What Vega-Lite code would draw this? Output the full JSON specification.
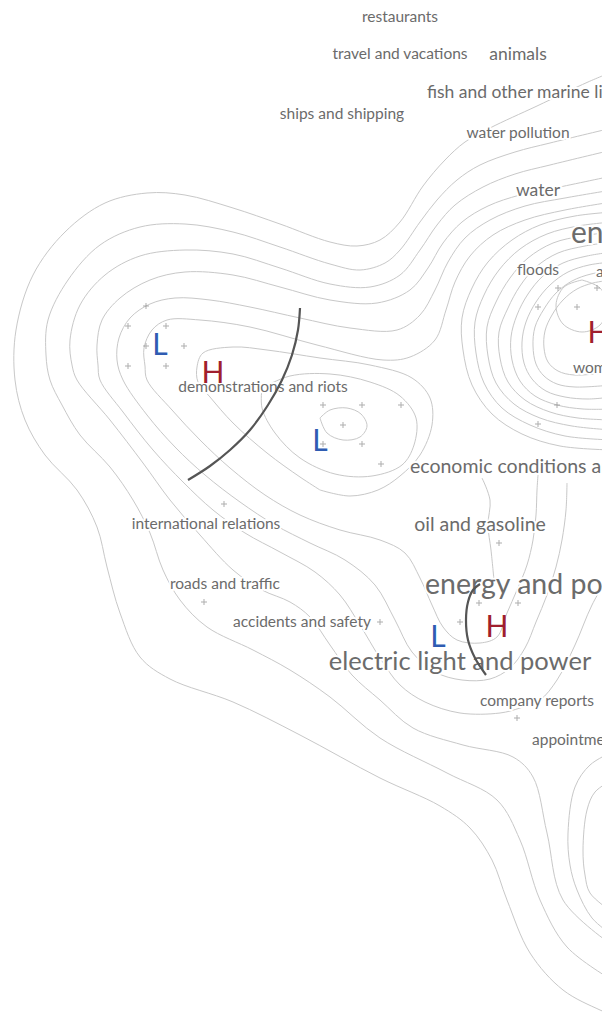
{
"$schema":"https://vega.github.io/schema/vega-lite/v6.json",
"width":602,"height":1012,"padding":{"left":0,"top":0,"right":6,"bottom":0},"autosize":"none","background":"white",
"config":{"view":{"stroke":null}},
"datasets":{
"contours":[
{"c":"C1","x":612,"y":72},{"c":"C1","x":588,"y":82},{"c":"C1","x":537,"y":106},{"c":"C1","x":490,"y":128},{"c":"C1","x":465,"y":142},{"c":"C1","x":445,"y":160},{"c":"C1","x":423,"y":186},{"c":"C1","x":400,"y":222},{"c":"C1","x":380,"y":240},{"c":"C1","x":357,"y":246},{"c":"C1","x":330,"y":242},{"c":"C1","x":280,"y":224},{"c":"C1","x":233,"y":208},{"c":"C1","x":185,"y":195},{"c":"C1","x":147,"y":193},{"c":"C1","x":105,"y":203},{"c":"C1","x":65,"y":232},{"c":"C1","x":33,"y":275},{"c":"C1","x":16,"y":330},{"c":"C1","x":15,"y":380},{"c":"C1","x":25,"y":420},{"c":"C1","x":45,"y":455},{"c":"C1","x":77,"y":490},{"c":"C1","x":97,"y":527},{"c":"C1","x":107,"y":567},{"c":"C1","x":120,"y":613},{"c":"C1","x":140,"y":657},{"c":"C1","x":170,"y":679},{"c":"C1","x":233,"y":702},{"c":"C1","x":300,"y":735},{"c":"C1","x":380,"y":778},{"c":"C1","x":440,"y":806},{"c":"C1","x":470,"y":828},{"c":"C1","x":492,"y":860},{"c":"C1","x":507,"y":900},{"c":"C1","x":530,"y":953},{"c":"C1","x":563,"y":990},{"c":"C1","x":600,"y":1010},{"c":"C1","x":615,"y":1016},
{"c":"C2","x":612,"y":128},{"c":"C2","x":550,"y":143},{"c":"C2","x":515,"y":152},{"c":"C2","x":480,"y":165},{"c":"C2","x":457,"y":180},{"c":"C2","x":437,"y":200},{"c":"C2","x":420,"y":222},{"c":"C2","x":400,"y":250},{"c":"C2","x":385,"y":263},{"c":"C2","x":360,"y":270},{"c":"C2","x":330,"y":264},{"c":"C2","x":280,"y":247},{"c":"C2","x":233,"y":232},{"c":"C2","x":185,"y":224},{"c":"C2","x":140,"y":227},{"c":"C2","x":100,"y":245},{"c":"C2","x":68,"y":280},{"c":"C2","x":48,"y":320},{"c":"C2","x":46,"y":355},{"c":"C2","x":50,"y":380},{"c":"C2","x":62,"y":405},{"c":"C2","x":80,"y":435},{"c":"C2","x":110,"y":467},{"c":"C2","x":133,"y":500},{"c":"C2","x":150,"y":533},{"c":"C2","x":163,"y":570},{"c":"C2","x":180,"y":600},{"c":"C2","x":207,"y":627},{"c":"C2","x":253,"y":650},{"c":"C2","x":290,"y":670},{"c":"C2","x":330,"y":697},{"c":"C2","x":380,"y":738},{"c":"C2","x":447,"y":773},{"c":"C2","x":497,"y":800},{"c":"C2","x":520,"y":840},{"c":"C2","x":540,"y":900},{"c":"C2","x":567,"y":947},{"c":"C2","x":612,"y":980},
{"c":"C3","x":612,"y":150},{"c":"C3","x":550,"y":165},{"c":"C3","x":515,"y":174},{"c":"C3","x":483,"y":187},{"c":"C3","x":455,"y":205},{"c":"C3","x":437,"y":225},{"c":"C3","x":420,"y":250},{"c":"C3","x":400,"y":275},{"c":"C3","x":370,"y":287},{"c":"C3","x":330,"y":284},{"c":"C3","x":280,"y":268},{"c":"C3","x":233,"y":254},{"c":"C3","x":185,"y":250},{"c":"C3","x":140,"y":256},{"c":"C3","x":105,"y":275},{"c":"C3","x":80,"y":305},{"c":"C3","x":70,"y":340},{"c":"C3","x":72,"y":365},{"c":"C3","x":77,"y":380},{"c":"C3","x":110,"y":420},{"c":"C3","x":143,"y":463},{"c":"C3","x":170,"y":500},{"c":"C3","x":200,"y":535},{"c":"C3","x":233,"y":570},{"c":"C3","x":262,"y":590},{"c":"C3","x":290,"y":602},{"c":"C3","x":310,"y":617},{"c":"C3","x":330,"y":645},{"c":"C3","x":352,"y":675},{"c":"C3","x":380,"y":700},{"c":"C3","x":413,"y":728},{"c":"C3","x":463,"y":745},{"c":"C3","x":513,"y":757},{"c":"C3","x":533,"y":777},{"c":"C3","x":547,"y":833},{"c":"C3","x":563,"y":900},{"c":"C3","x":612,"y":945},
{"c":"C4","x":612,"y":176},{"c":"C4","x":555,"y":188},{"c":"C4","x":520,"y":195},{"c":"C4","x":488,"y":206},{"c":"C4","x":462,"y":222},{"c":"C4","x":443,"y":243},{"c":"C4","x":428,"y":268},{"c":"C4","x":410,"y":290},{"c":"C4","x":377,"y":303},{"c":"C4","x":330,"y":300},{"c":"C4","x":280,"y":287},{"c":"C4","x":233,"y":275},{"c":"C4","x":185,"y":272},{"c":"C4","x":150,"y":280},{"c":"C4","x":120,"y":298},{"c":"C4","x":102,"y":320},{"c":"C4","x":97,"y":345},{"c":"C4","x":98,"y":365},{"c":"C4","x":100,"y":380},{"c":"C4","x":123,"y":412},{"c":"C4","x":153,"y":450},{"c":"C4","x":183,"y":482},{"c":"C4","x":213,"y":510},{"c":"C4","x":245,"y":533},{"c":"C4","x":280,"y":552},{"c":"C4","x":315,"y":572},{"c":"C4","x":340,"y":595},{"c":"C4","x":360,"y":625},{"c":"C4","x":380,"y":658},{"c":"C4","x":400,"y":685},{"c":"C4","x":425,"y":702},{"c":"C4","x":460,"y":713},{"c":"C4","x":500,"y":713},{"c":"C4","x":520,"y":708},{"c":"C4","x":540,"y":700},{"c":"C4","x":557,"y":680},{"c":"C4","x":575,"y":645},{"c":"C4","x":592,"y":605},{"c":"C4","x":612,"y":570},
{"c":"C5","x":612,"y":190},{"c":"C5","x":565,"y":198},{"c":"C5","x":525,"y":206},{"c":"C5","x":490,"y":220},{"c":"C5","x":465,"y":238},{"c":"C5","x":448,"y":262},{"c":"C5","x":435,"y":290},{"c":"C5","x":420,"y":315},{"c":"C5","x":397,"y":330},{"c":"C5","x":350,"y":328},{"c":"C5","x":300,"y":318},{"c":"C5","x":250,"y":307},{"c":"C5","x":210,"y":300},{"c":"C5","x":175,"y":298},{"c":"C5","x":150,"y":304},{"c":"C5","x":130,"y":318},{"c":"C5","x":119,"y":338},{"c":"C5","x":117,"y":360},{"c":"C5","x":123,"y":380},{"c":"C5","x":147,"y":415},{"c":"C5","x":175,"y":447},{"c":"C5","x":205,"y":475},{"c":"C5","x":240,"y":502},{"c":"C5","x":275,"y":525},{"c":"C5","x":310,"y":543},{"c":"C5","x":345,"y":560},{"c":"C5","x":375,"y":585},{"c":"C5","x":395,"y":620},{"c":"C5","x":412,"y":652},{"c":"C5","x":435,"y":672},{"c":"C5","x":462,"y":680},{"c":"C5","x":490,"y":679},{"c":"C5","x":510,"y":668},{"c":"C5","x":525,"y":648},{"c":"C5","x":536,"y":622},{"c":"C5","x":547,"y":595},{"c":"C5","x":556,"y":567},{"c":"C5","x":562,"y":540},{"c":"C5","x":566,"y":510},{"c":"C5","x":567,"y":483},
{"c":"C6","x":612,"y":202},{"c":"C6","x":565,"y":210},{"c":"C6","x":525,"y":220},{"c":"C6","x":493,"y":235},{"c":"C6","x":470,"y":256},{"c":"C6","x":455,"y":282},{"c":"C6","x":446,"y":310},{"c":"C6","x":435,"y":340},{"c":"C6","x":410,"y":357},{"c":"C6","x":383,"y":360},{"c":"C6","x":317,"y":345},{"c":"C6","x":250,"y":327},{"c":"C6","x":200,"y":320},{"c":"C6","x":167,"y":320},{"c":"C6","x":152,"y":330},{"c":"C6","x":144,"y":348},{"c":"C6","x":145,"y":366},{"c":"C6","x":147,"y":380},{"c":"C6","x":172,"y":410},{"c":"C6","x":200,"y":440},{"c":"C6","x":230,"y":468},{"c":"C6","x":265,"y":495},{"c":"C6","x":300,"y":515},{"c":"C6","x":340,"y":530},{"c":"C6","x":380,"y":540},{"c":"C6","x":405,"y":553},{"c":"C6","x":420,"y":578},{"c":"C6","x":432,"y":605},{"c":"C6","x":443,"y":627},{"c":"C6","x":457,"y":640},{"c":"C6","x":480,"y":643},{"c":"C6","x":497,"y":637},{"c":"C6","x":507,"y":613},{"c":"C6","x":517,"y":590},{"c":"C6","x":527,"y":565},{"c":"C6","x":533,"y":540},{"c":"C6","x":536,"y":515},{"c":"C6","x":537,"y":490},{"c":"C6","x":538,"y":475},
{"c":"C7","x":320,"y":490},{"c":"C7","x":350,"y":496},{"c":"C7","x":378,"y":490},{"c":"C7","x":400,"y":476},{"c":"C7","x":420,"y":455},{"c":"C7","x":432,"y":425},{"c":"C7","x":430,"y":398},{"c":"C7","x":412,"y":378},{"c":"C7","x":370,"y":365},{"c":"C7","x":320,"y":358},{"c":"C7","x":267,"y":350},{"c":"C7","x":233,"y":347},{"c":"C7","x":203,"y":353},{"c":"C7","x":197,"y":367},{"c":"C7","x":198,"y":382},{"c":"C7","x":210,"y":397},{"c":"C7","x":233,"y":423},{"c":"C7","x":267,"y":453},{"c":"C7","x":300,"y":477},{"c":"C7","x":320,"y":490},
{"c":"E1","x":262,"y":388},{"c":"E1","x":290,"y":376},{"c":"E1","x":330,"y":374},{"c":"E1","x":370,"y":382},{"c":"E1","x":400,"y":396},{"c":"E1","x":416,"y":418},{"c":"E1","x":414,"y":445},{"c":"E1","x":402,"y":465},{"c":"E1","x":372,"y":476},{"c":"E1","x":335,"y":474},{"c":"E1","x":300,"y":458},{"c":"E1","x":275,"y":433},{"c":"E1","x":262,"y":408},{"c":"E1","x":262,"y":388},
{"c":"E2","x":320,"y":418},{"c":"E2","x":330,"y":410},{"c":"E2","x":347,"y":408},{"c":"E2","x":361,"y":414},{"c":"E2","x":367,"y":426},{"c":"E2","x":360,"y":437},{"c":"E2","x":343,"y":440},{"c":"E2","x":327,"y":433},{"c":"E2","x":320,"y":418},
{"c":"R8","x":612,"y":212},{"c":"R8","x":575,"y":216},{"c":"R8","x":540,"y":225},{"c":"R8","x":512,"y":240},{"c":"R8","x":488,"y":262},{"c":"R8","x":472,"y":288},{"c":"R8","x":462,"y":318},{"c":"R8","x":463,"y":350},{"c":"R8","x":472,"y":385},{"c":"R8","x":492,"y":414},{"c":"R8","x":522,"y":434},{"c":"R8","x":560,"y":446},{"c":"R8","x":612,"y":450},
{"c":"R7","x":612,"y":222},{"c":"R7","x":578,"y":226},{"c":"R7","x":547,"y":234},{"c":"R7","x":520,"y":249},{"c":"R7","x":499,"y":270},{"c":"R7","x":484,"y":295},{"c":"R7","x":475,"y":322},{"c":"R7","x":476,"y":353},{"c":"R7","x":484,"y":383},{"c":"R7","x":502,"y":408},{"c":"R7","x":530,"y":425},{"c":"R7","x":565,"y":436},{"c":"R7","x":612,"y":440},
{"c":"R6","x":612,"y":232},{"c":"R6","x":582,"y":236},{"c":"R6","x":553,"y":243},{"c":"R6","x":528,"y":258},{"c":"R6","x":510,"y":278},{"c":"R6","x":496,"y":302},{"c":"R6","x":487,"y":327},{"c":"R6","x":488,"y":356},{"c":"R6","x":496,"y":383},{"c":"R6","x":514,"y":404},{"c":"R6","x":540,"y":418},{"c":"R6","x":572,"y":426},{"c":"R6","x":612,"y":430},
{"c":"R5","x":612,"y":242},{"c":"R5","x":585,"y":246},{"c":"R5","x":558,"y":253},{"c":"R5","x":536,"y":267},{"c":"R5","x":520,"y":286},{"c":"R5","x":508,"y":308},{"c":"R5","x":499,"y":332},{"c":"R5","x":500,"y":358},{"c":"R5","x":508,"y":382},{"c":"R5","x":525,"y":400},{"c":"R5","x":550,"y":412},{"c":"R5","x":578,"y":418},{"c":"R5","x":612,"y":420},
{"c":"R4","x":612,"y":252},{"c":"R4","x":587,"y":256},{"c":"R4","x":563,"y":263},{"c":"R4","x":543,"y":276},{"c":"R4","x":528,"y":294},{"c":"R4","x":517,"y":315},{"c":"R4","x":511,"y":337},{"c":"R4","x":512,"y":360},{"c":"R4","x":520,"y":381},{"c":"R4","x":535,"y":396},{"c":"R4","x":557,"y":405},{"c":"R4","x":583,"y":409},{"c":"R4","x":612,"y":409},
{"c":"R3","x":612,"y":262},{"c":"R3","x":589,"y":265},{"c":"R3","x":568,"y":272},{"c":"R3","x":550,"y":285},{"c":"R3","x":536,"y":302},{"c":"R3","x":526,"y":322},{"c":"R3","x":522,"y":342},{"c":"R3","x":524,"y":363},{"c":"R3","x":532,"y":379},{"c":"R3","x":546,"y":391},{"c":"R3","x":565,"y":397},{"c":"R3","x":588,"y":399},{"c":"R3","x":612,"y":397},
{"c":"R2","x":612,"y":271},{"c":"R2","x":591,"y":274},{"c":"R2","x":572,"y":281},{"c":"R2","x":556,"y":293},{"c":"R2","x":544,"y":309},{"c":"R2","x":535,"y":327},{"c":"R2","x":533,"y":346},{"c":"R2","x":536,"y":364},{"c":"R2","x":544,"y":376},{"c":"R2","x":557,"y":384},{"c":"R2","x":575,"y":387},{"c":"R2","x":612,"y":385},
{"c":"R1","x":612,"y":280},{"c":"R1","x":593,"y":283},{"c":"R1","x":577,"y":289},{"c":"R1","x":563,"y":300},{"c":"R1","x":552,"y":315},{"c":"R1","x":545,"y":331},{"c":"R1","x":544,"y":348},{"c":"R1","x":548,"y":362},{"c":"R1","x":558,"y":371},{"c":"R1","x":574,"y":375},{"c":"R1","x":612,"y":372},
{"c":"R0","x":582,"y":280},{"c":"R0","x":564,"y":287},{"c":"R0","x":556,"y":305},{"c":"R0","x":563,"y":324},{"c":"R0","x":582,"y":332},{"c":"R0","x":600,"y":325},{"c":"R0","x":608,"y":306},{"c":"R0","x":600,"y":288},{"c":"R0","x":582,"y":280},
{"c":"D1","x":482,"y":478},{"c":"D1","x":490,"y":500},{"c":"D1","x":488,"y":525},{"c":"D1","x":491,"y":550},{"c":"D1","x":494,"y":580},
{"c":"B1","x":612,"y":752},{"c":"B1","x":590,"y":765},{"c":"B1","x":575,"y":787},{"c":"B1","x":568,"y":833},{"c":"B1","x":570,"y":865},{"c":"B1","x":577,"y":890},{"c":"B1","x":592,"y":918},{"c":"B1","x":612,"y":935},
{"c":"B2","x":612,"y":780},{"c":"B2","x":595,"y":792},{"c":"B2","x":587,"y":810},{"c":"B2","x":583,"y":850},{"c":"B2","x":585,"y":875},{"c":"B2","x":590,"y":893},{"c":"B2","x":612,"y":912}
],
"arcs":[
{"a":"front1","x":300,"y":308},{"a":"front1","x":298,"y":330},{"a":"front1","x":292,"y":355},{"a":"front1","x":282,"y":380},{"a":"front1","x":268,"y":405},{"a":"front1","x":250,"y":430},{"a":"front1","x":230,"y":450},{"a":"front1","x":210,"y":466},{"a":"front1","x":188,"y":480},
{"a":"front2","x":480,"y":584},{"a":"front2","x":473,"y":590},{"a":"front2","x":468,"y":602},{"a":"front2","x":466,"y":620},{"a":"front2","x":468,"y":640},{"a":"front2","x":475,"y":658},{"a":"front2","x":486,"y":675}
],
"labels":[
{"t":"restaurants","x":400,"y":17,"tier":1,"edge":false},
{"t":"travel and vacations","x":400,"y":54,"tier":1,"edge":false},
{"t":"animals","x":518,"y":55,"tier":2,"edge":false},
{"t":"fish and other marine life","x":427,"y":93,"tier":2,"edge":true},
{"t":"ships and shipping","x":342,"y":114,"tier":1,"edge":false},
{"t":"water pollution","x":518,"y":133,"tier":1,"edge":false},
{"t":"water","x":538,"y":191,"tier":2,"edge":false},
{"t":"environment","x":571,"y":234,"tier":6,"edge":true},
{"t":"floods","x":538,"y":270,"tier":1,"edge":false},
{"t":"air pollution","x":596,"y":272,"tier":1,"edge":true},
{"t":"women","x":573,"y":368,"tier":1,"edge":true},
{"t":"demonstrations and riots","x":263,"y":387,"tier":1,"edge":false},
{"t":"economic conditions and trade","x":410,"y":467,"tier":3,"edge":true},
{"t":"international relations","x":206,"y":524,"tier":1,"edge":false},
{"t":"oil and gasoline","x":480,"y":525,"tier":3,"edge":false},
{"t":"roads and traffic","x":225,"y":584,"tier":1,"edge":false},
{"t":"energy and power","x":425,"y":585,"tier":5,"edge":true},
{"t":"accidents and safety","x":302,"y":622,"tier":1,"edge":false},
{"t":"electric light and power","x":460,"y":662,"tier":4,"edge":false},
{"t":"company reports","x":537,"y":701,"tier":1,"edge":false},
{"t":"appointments and executive changes","x":532,"y":740,"tier":1,"edge":true}
],
"docs":[
{"x":146,"y":306},{"x":128,"y":326},{"x":166,"y":326},{"x":146,"y":346},{"x":184,"y":346},{"x":128,"y":366},{"x":166,"y":366},
{"x":323,"y":405},{"x":362,"y":405},{"x":401,"y":405},{"x":343,"y":425},{"x":323,"y":444},{"x":362,"y":444},{"x":381,"y":464},
{"x":538,"y":307},{"x":558,"y":288},{"x":597,"y":288},{"x":577,"y":307},{"x":557,"y":405},{"x":538,"y":424},
{"x":224,"y":504},{"x":499,"y":543},{"x":204,"y":602},{"x":380,"y":622},{"x":479,"y":603},{"x":518,"y":603},{"x":460,"y":622},{"x":517,"y":718}
],
"centers":[
{"k":"L","x":160,"y":346},{"k":"H","x":213,"y":374},{"k":"L","x":320,"y":442},{"k":"H","x":599,"y":334},{"k":"L","x":438,"y":638},{"k":"H","x":497,"y":628}
]
},
"layer":[
{"data":{"name":"contours"},"mark":{"type":"line","interpolate":"catmull-rom","stroke":"#c8c8c8","strokeWidth":1,"clip":true},
 "encoding":{"x":{"field":"x","type":"quantitative","scale":{"domain":[0,602],"nice":false,"zero":false},"axis":null},
  "y":{"field":"y","type":"quantitative","scale":{"domain":[0,1012],"nice":false,"zero":false,"reverse":true},"axis":null},
  "detail":{"field":"c","type":"nominal"},"order":{"value":null}}},
{"data":{"name":"labels"},"transform":[{"filter":"!datum.edge"}],"mark":{"type":"text","align":"center","baseline":"middle","font":"Lato","fill":"white","stroke":"white","strokeWidth":4,"strokeJoin":"round","clip":true},
 "encoding":{"x":{"field":"x","type":"quantitative","scale":{"domain":[0,602],"nice":false,"zero":false},"axis":null},
  "y":{"field":"y","type":"quantitative","scale":{"domain":[0,1012],"nice":false,"zero":false,"reverse":true},"axis":null},
  "text":{"field":"t"},"size":{"field":"tier","type":"nominal","scale":{"type":"ordinal","domain":[1,2,3,4,5,6],"range":[15.5,17.5,19.5,25.5,28.5,30]},"legend":null}}},
{"data":{"name":"labels"},"transform":[{"filter":"datum.edge"}],"mark":{"type":"text","align":"left","baseline":"middle","font":"Lato","fill":"white","stroke":"white","strokeWidth":4,"strokeJoin":"round","clip":true},
 "encoding":{"x":{"field":"x","type":"quantitative","scale":{"domain":[0,602],"nice":false,"zero":false},"axis":null},
  "y":{"field":"y","type":"quantitative","scale":{"domain":[0,1012],"nice":false,"zero":false,"reverse":true},"axis":null},
  "text":{"field":"t"},"size":{"field":"tier","type":"nominal","scale":{"type":"ordinal","domain":[1,2,3,4,5,6],"range":[15.5,17.5,19.5,25.5,28.5,30]},"legend":null}}},
{"data":{"name":"labels"},"transform":[{"filter":"!datum.edge"}],"mark":{"type":"text","align":"center","baseline":"middle","font":"Lato","color":"#6b6b6b","clip":true},
 "encoding":{"x":{"field":"x","type":"quantitative","scale":{"domain":[0,602],"nice":false,"zero":false},"axis":null},
  "y":{"field":"y","type":"quantitative","scale":{"domain":[0,1012],"nice":false,"zero":false,"reverse":true},"axis":null},
  "text":{"field":"t"},"size":{"field":"tier","type":"nominal","scale":{"type":"ordinal","domain":[1,2,3,4,5,6],"range":[15.5,17.5,19.5,25.5,28.5,30]},"legend":null}}},
{"data":{"name":"labels"},"transform":[{"filter":"datum.edge"}],"mark":{"type":"text","align":"left","baseline":"middle","font":"Lato","color":"#6b6b6b","clip":true},
 "encoding":{"x":{"field":"x","type":"quantitative","scale":{"domain":[0,602],"nice":false,"zero":false},"axis":null},
  "y":{"field":"y","type":"quantitative","scale":{"domain":[0,1012],"nice":false,"zero":false,"reverse":true},"axis":null},
  "text":{"field":"t"},"size":{"field":"tier","type":"nominal","scale":{"type":"ordinal","domain":[1,2,3,4,5,6],"range":[15.5,17.5,19.5,25.5,28.5,30]},"legend":null}}},
{"data":{"name":"docs"},"mark":{"type":"point","shape":"M-1,0L1,0M0,-1L0,1","size":36,"filled":false,"stroke":"#8c8c8c","strokeWidth":1,"clip":true},
 "encoding":{"x":{"field":"x","type":"quantitative","scale":{"domain":[0,602],"nice":false,"zero":false},"axis":null},
  "y":{"field":"y","type":"quantitative","scale":{"domain":[0,1012],"nice":false,"zero":false,"reverse":true},"axis":null}}},
{"data":{"name":"arcs"},"mark":{"type":"line","interpolate":"catmull-rom","stroke":"#555555","strokeWidth":2.2,"clip":true},
 "encoding":{"x":{"field":"x","type":"quantitative","scale":{"domain":[0,602],"nice":false,"zero":false},"axis":null},
  "y":{"field":"y","type":"quantitative","scale":{"domain":[0,1012],"nice":false,"zero":false,"reverse":true},"axis":null},
  "detail":{"field":"a","type":"nominal"},"order":{"value":null}}},
{"data":{"name":"centers"},"mark":{"type":"text","align":"center","baseline":"middle","font":"Lato","fontSize":30,"clip":true},
 "encoding":{"x":{"field":"x","type":"quantitative","scale":{"domain":[0,602],"nice":false,"zero":false},"axis":null},
  "y":{"field":"y","type":"quantitative","scale":{"domain":[0,1012],"nice":false,"zero":false,"reverse":true},"axis":null},
  "text":{"field":"k"},"color":{"field":"k","type":"nominal","scale":{"domain":["L","H"],"range":["#2f5cb2","#a01f2e"]},"legend":null}}}
]
}
